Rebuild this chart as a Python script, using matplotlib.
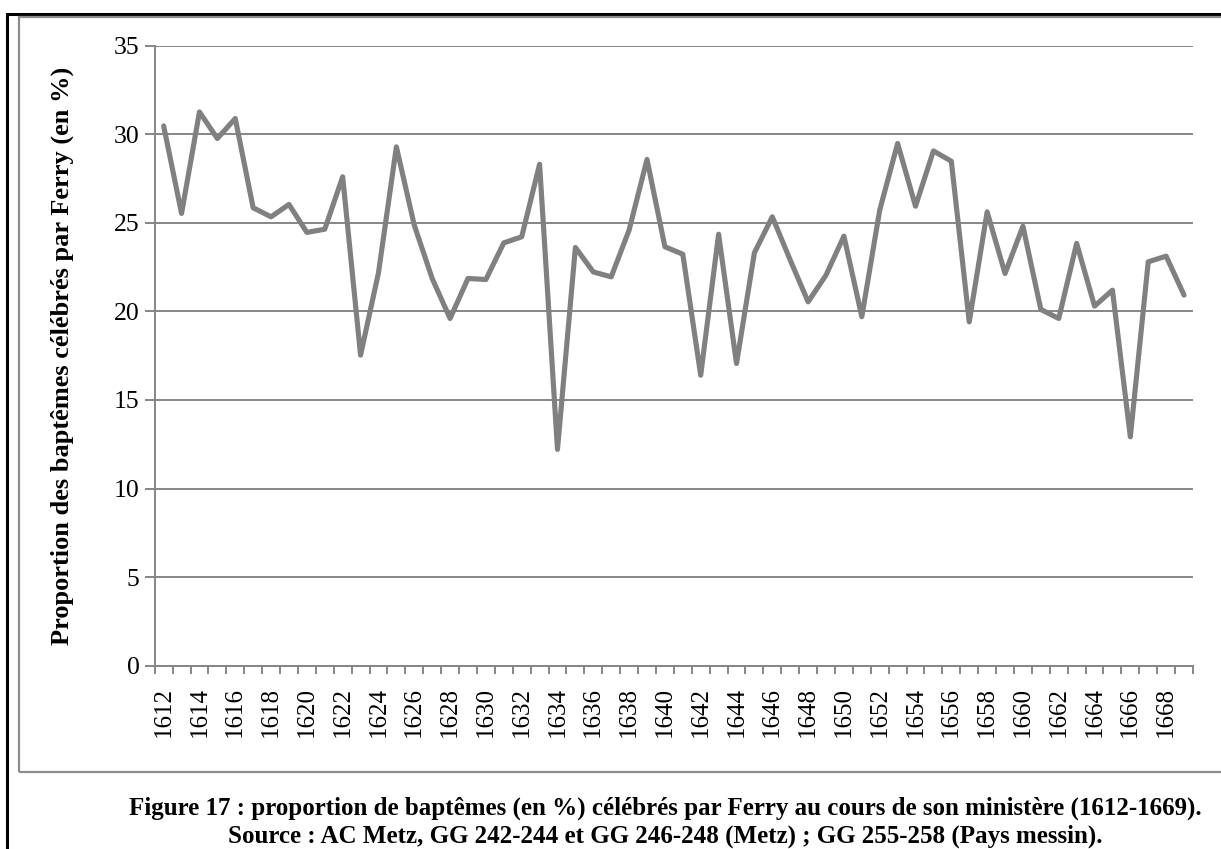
import matplotlib
matplotlib.use("Agg")
import matplotlib.pyplot as plt
from matplotlib.patches import Rectangle
import numpy as np

years = list(range(1612, 1670))
values = [30.47, 25.53, 31.26, 29.76, 30.89, 25.85, 25.34, 26.04, 24.46, 24.64,
          27.60, 17.53, 22.18, 29.29, 24.87, 21.86, 19.60, 21.86, 21.80, 23.87,
          24.21, 28.31, 12.21, 23.61, 22.23, 21.95, 24.59, 28.58, 23.65, 23.23,
          16.40, 24.36, 17.06, 23.31, 25.34, 22.90, 20.54, 22.05, 24.25, 19.70,
          25.72, 29.48, 25.94, 29.06, 28.48, 19.41, 25.62, 22.14, 24.81, 20.11,
          19.60, 23.84, 20.30, 21.20, 12.92, 22.80, 23.12, 20.92]
y_ticks = [0, 5, 10, 15, 20, 25, 30, 35]
y_label = "Proportion des baptêmes célébrés par Ferry (en %)"
caption1 = "Figure 17 : proportion de baptêmes (en %) célébrés par Ferry au cours de son ministère (1612-1669)."
caption2 = "Source : AC Metz, GG 242-244 et GG 246-248 (Metz) ; GG 255-258 (Pays messin)."

plt.rcParams['font.family'] = ['Liberation Serif', 'DejaVu Serif']

W, H = 1221, 849
fig = plt.figure(figsize=(W / 100, H / 100), dpi=100)

# frames
fig.patches.append(Rectangle((7 / W, -0.1), 2.0, 1 - 14 / H + 0.1, transform=fig.transFigure,
                             fill=False, edgecolor='black', linewidth=2.2))
fig.patches.append(Rectangle((19 / W, 1 - 772 / H), 2.0, (772 - 16.5) / H, transform=fig.transFigure,
                             fill=False, edgecolor='#8c8c8c', linewidth=1.6))

grid_c = '#868686'
ax = fig.add_axes([154.7 / W, 1 - 665.7 / H, (1193 - 154.7) / W, (665.7 - 45.7) / H])
x = np.arange(len(years))
ax.plot(x, values, color='#808080', linewidth=3.7, solid_joinstyle='round', solid_capstyle='round',
        zorder=3)

ax.set_xlim(-0.5, len(years) - 0.5)
ax.set_ylim(0, 35)
ax.set_yticks(y_ticks)
ax.set_yticklabels([str(v) for v in y_ticks], fontsize=18.5)
ax.yaxis.grid(True, color=grid_c, linewidth=1.4)
ax.set_axisbelow(True)
ax.tick_params(axis='y', length=7, width=1.4, color=grid_c, pad=4)

ax.set_xticks(np.arange(-0.5, len(years), 1.0), minor=False)
ax.set_xticklabels([])
ax.set_xticks(x[::2], minor=True)
ax.set_xticklabels([str(y) for y in years[::2]], minor=True, rotation=90, fontsize=18)
ax.tick_params(axis='x', which='major', length=6, width=1.4, color=grid_c, direction='out')
ax.tick_params(axis='x', which='minor', length=0, pad=15)

for s in ['top', 'right']:
    ax.spines[s].set_visible(False)
for s in ['left', 'bottom']:
    ax.spines[s].set_color(grid_c)
    ax.spines[s].set_linewidth(1.4)

ax.set_ylabel(y_label, fontsize=19, fontweight='bold')
ax.yaxis.set_label_coords(-(154.7 - 62) / (1193 - 154.7), 0.5)
ax.yaxis.label.set_va('center')

fig.text(665 / W, 1 - 815 / H, caption1, ha='center', va='baseline', fontsize=18, fontweight='bold')
fig.text(665 / W, 1 - 843 / H, caption2, ha='center', va='baseline', fontsize=18, fontweight='bold')

fig.savefig('out.png', dpi=100)
